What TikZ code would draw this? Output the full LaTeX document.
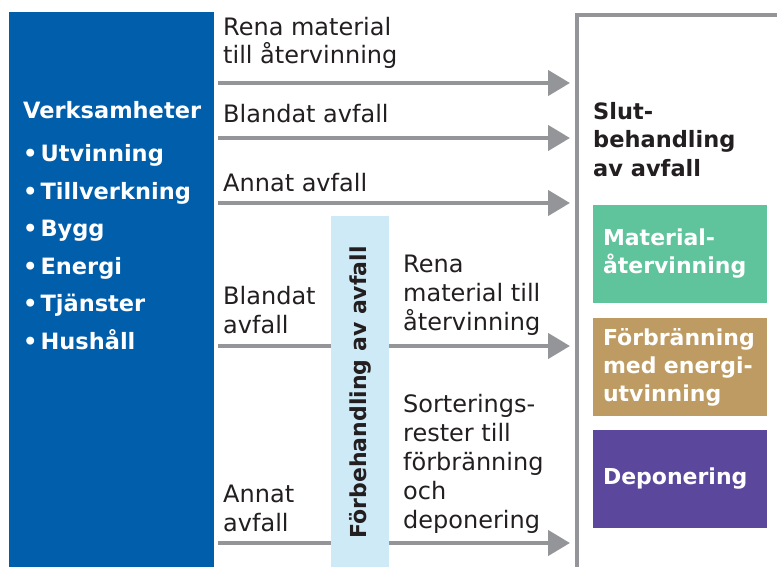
\documentclass[tikz,border=0pt]{standalone}
\usepackage{fontspec}
\setmainfont{DejaVu Sans}
\usetikzlibrary{arrows.meta, positioning}
\definecolor{sectorblue}{RGB}{0,94,170}
\definecolor{prelightblue}{RGB}{206,234,246}
\definecolor{flowgray}{RGB}{147,149,152}
\definecolor{recyclegreen}{RGB}{95,195,156}
\definecolor{burntan}{RGB}{189,155,98}
\definecolor{landfillpurple}{RGB}{91,71,156}
\definecolor{titleblack}{RGB}{35,31,32}
\newcommand{\sectoritem}{•\hspace{3pt}}

\begin{document}
\begin{tikzpicture}[
    x=1pt, y=-1pt,
    panel/.style={rectangle, inner sep=0pt, outer sep=0pt, anchor=north west},
    flow/.style={draw=flowgray, line width=4.5pt, -{Triangle[length=22pt,width=25pt]}},
    flowpart/.style={draw=flowgray, line width=4.5pt},
    flowtext/.style={anchor=base west, align=left, inner sep=0pt, text=titleblack, font=\fontsize{24}{28.8}\selectfont},
    treatment/.style={rectangle, outer sep=0pt, minimum width=174pt, minimum height=98pt, text width=154pt, inner xsep=10pt, align=left, text=white, font=\bfseries\fontsize{22}{28}\selectfont}
]
\useasboundingbox (0,0) rectangle (777,567);

% Panels
\node (verks) [panel, fill=sectorblue, minimum width=205pt, minimum height=555pt] at (9,12) {};
\node (pre) [panel, fill=prelightblue, minimum width=58pt, minimum height=351pt] at (331,216) {};

% Frame of final treatment
\coordinate (frame) at (577,15);
\coordinate (frameend) at (777,15);
\coordinate (framefoot) at (577,567);
\draw [flowgray, line width=4.5pt] (frameend) -- (frame) -- (framefoot);

% Flow rows
\coordinate (row1) at (0,83);
\coordinate (row2) at (0,138);
\coordinate (row3) at (0,203);
\coordinate (row4) at (0,346);
\coordinate (row5) at (0,543);

% Arrows
\foreach \row in {row1, row2, row3} {
    \draw [flow, shorten <=4pt, shorten >=7pt] (verks.east |- \row) -- (frame |- \row);
}
\foreach \row in {row4, row5} {
    \draw [flowpart, shorten <=4pt] (verks.east |- \row) -- (pre.west |- \row);
    \draw [flow, shorten >=7pt] (pre.east |- \row) -- (frame |- \row);
}

% Sources (anchored at the baseline of the last line)
\node (verkslist) [anchor=base west, align=left, inner sep=0pt, text=white, font=\bfseries\fontsize{22.5}{37.5}\selectfont] at (23,349)
    {Verksamheter\\[5.5pt]\sectoritem Utvinning\\\sectoritem Tillverkning\\\sectoritem Bygg\\\sectoritem Energi\\\sectoritem Tjänster\\\sectoritem Hushåll};

\node (pretext) [rotate=90, xshift=-1pt, text=titleblack, font=\bfseries\fontsize{22}{26}\selectfont] at (pre.center) {Förbehandling av avfall};

% Flow labels
\node (rena) [flowtext] at (223,64) {Rena material\\till återvinning};
\node (blandat) [flowtext] at (223,123) {Blandat avfall};
\node (annat) [flowtext] at (223,192) {Annat avfall};
\node (blandatpre) [flowtext] at (223,333) {Blandat\\avfall};
\node (annatpre) [flowtext] at (223,531) {Annat\\avfall};
\node (renapre) [flowtext] at (403,330) {Rena\\material till\\återvinning};
\node (sortrest) [flowtext] at (403,528) {Sorterings-\\rester till\\förbränning\\och\\deponering};

% Final treatment
\node (sluttitle) [anchor=base west, align=left, inner sep=0pt, text=titleblack, font=\bfseries\fontsize{22.5}{29}\selectfont] at (593,177) {Slut-\\behandling\\av avfall};
\node (matatv) [treatment, fill=recyclegreen, anchor=north west] at (593,205) {Material-\\återvinning};
\node (forbr) [treatment, fill=burntan, below=15pt of matatv] {Förbränning\\med energi-\\utvinning};
\node (depon) [treatment, fill=landfillpurple, below=14pt of forbr] {Deponering};

\end{tikzpicture}
\end{document}
